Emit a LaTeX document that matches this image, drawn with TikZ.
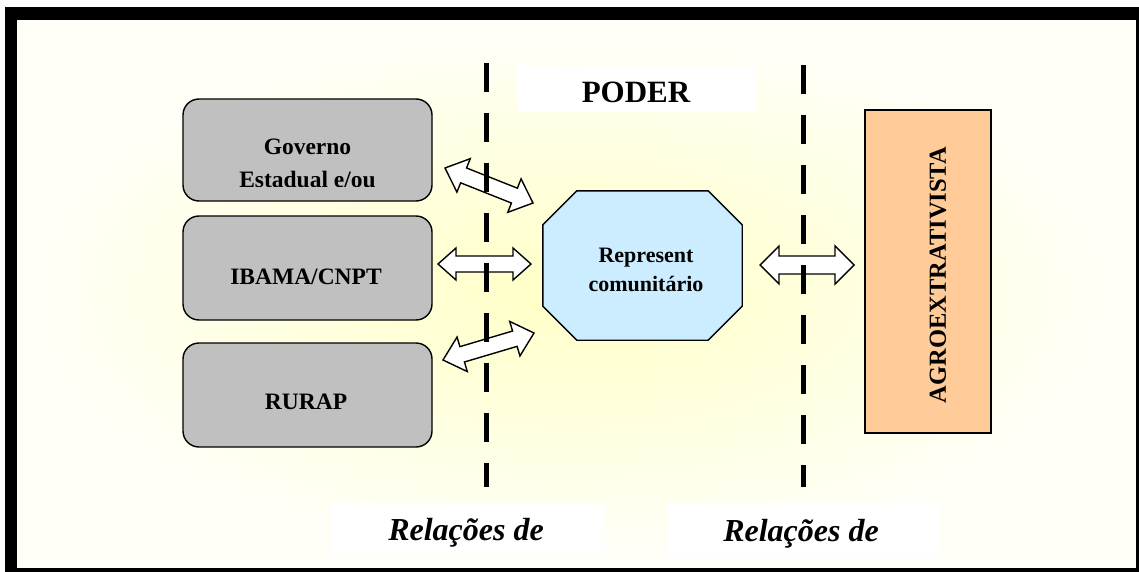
\documentclass[tikz,border=0pt]{standalone}
\usepackage{fontspec}
\setmainfont{Liberation Serif}
\usetikzlibrary{calc}
\definecolor{boxgray}{HTML}{C0C0C0}
\definecolor{octblue}{HTML}{CCECFF}
\definecolor{agrofill}{HTML}{FFCC99}
\definecolor{bgpale}{HTML}{FFFFF7}
\definecolor{bgyellow}{HTML}{FFFFC6}
\newcommand\dblarrow[5]{%
 \draw[blockarrow] (#1)
   -- ($(#1)!#3!(#2)!#5!90:(#2)$)
   -- ($(#1)!#3!(#2)!#4!90:(#2)$)
   -- ($(#2)!#3!(#1)!#4!-90:(#1)$)
   -- ($(#2)!#3!(#1)!#5!-90:(#1)$)
   -- (#2)
   -- ($(#2)!#3!(#1)!#5!90:(#1)$)
   -- ($(#2)!#3!(#1)!#4!90:(#1)$)
   -- ($(#1)!#3!(#2)!#4!-90:(#2)$)
   -- ($(#1)!#3!(#2)!#5!-90:(#2)$)
   -- cycle;}
\tikzset{
  graybox/.style={draw=black, line width=1.4pt, fill=boxgray, rounded corners=16pt, minimum width=249pt, inner sep=0pt},
  boxtext/.style={anchor=base, inner sep=0pt, font=\fontsize{23.5}{28}\selectfont\bfseries},
  octtext/.style={anchor=base, inner sep=0pt, font=\fontsize{22}{26}\selectfont\bfseries},
  reltext/.style={anchor=base, inner sep=0pt, font=\fontsize{32}{37}\selectfont\bfseries\itshape},
  blockarrow/.style={draw=black, line width=1.4pt, fill=white, line join=miter},
  sepline/.style={line width=5pt, dash pattern=on 29pt off 21pt},
}
\begin{document}
\begin{tikzpicture}[x=1pt, y=-1pt]
\useasboundingbox (0,0) rectangle (1139,572);
% frame and background
\fill[black] (5,7) rectangle (1139,572);
\fill[bgpale] (17,20) rectangle (1136,568);
\shade[inner color=bgyellow, outer color=bgpale] (30,35) rectangle (1110,550);
% white label boxes
\fill[white] (517,65) rectangle (755,112);
\fill[white] (332,503) rectangle (605,555);
\fill[white] (668,503) rectangle (940,557);
% gray boxes
\node[graybox, minimum height=102pt] (gov) at (307.5,150) {};
\node[graybox, minimum height=104pt] (ibama) at (307.5,268) {};
\node[graybox, minimum height=104pt] (rurap) at (307.5,395) {};
% octagon
\node[minimum width=199pt, minimum height=149pt, inner sep=0pt] (rep) at (642.5,265.5) {};
\draw[line width=1.4pt, fill=octblue, line join=miter]
  ($(rep.north west)+(34,0)$) -- ($(rep.north east)+(-34,0)$)
  -- ($(rep.north east)+(0,34)$) -- ($(rep.south east)+(0,-34)$)
  -- ($(rep.south east)+(-34,0)$) -- ($(rep.south west)+(34,0)$)
  -- ($(rep.south west)+(0,-34)$) -- ($(rep.north west)+(0,34)$) -- cycle;
% agro box
\node[draw=black, line width=1.4pt, fill=agrofill, minimum width=126pt, minimum height=323pt, inner sep=0pt] (agro) at (928,271.5) {};
% arrows
\coordinate (a1) at (445,168); \coordinate (b1) at (533,203);
\coordinate (a2) at (438,264); \coordinate (b2) at (531,264);
\coordinate (a3) at (443,360); \coordinate (b3) at (534,333);
\coordinate (a4) at (760,265); \coordinate (b4) at (854,265);
\dblarrow{a1}{b1}{20pt}{8pt}{18pt}
\dblarrow{a2}{b2}{18pt}{8pt}{16pt}
\dblarrow{a3}{b3}{20pt}{8pt}{18pt}
\dblarrow{a4}{b4}{19pt}{9pt}{19pt}
% dashed separators
\coordinate (l1) at (486,63); \coordinate (l2) at (486,487);
\coordinate (r1) at (803,65); \coordinate (r2) at (803,487);
\draw[sepline] (l1) -- (l2);
\draw[sepline] (r1) -- (r2);
% texts
\node[boxtext] (govt1) at (307.5,155) {Governo};
\begin{scope}
\clip (183,99) rectangle (432,186);
\node[boxtext] (govt2) at (307.5,187) {Estadual e/ou};
\end{scope}
\node[boxtext] (ibamat) at (306,284) {IBAMA/CNPT};
\node[boxtext] (rurapt) at (306,409) {RURAP};
\node[octtext] (rept1) at (646,262) {Represent};
\node[octtext] (rept2) at (646,291) {comunitário};
\node[rotate=90, inner sep=0pt, font=\fontsize{24.5}{29}\selectfont\bfseries] (agrot) at (938,275) {AGROEXTRATIVISTA};
\node[anchor=base, inner sep=0pt, font=\fontsize{31}{36}\selectfont\bfseries] (poder) at (636,103) {PODER};
\node[reltext] (rel1) at (466,540) {Relações de};
\node[reltext] (rel2) at (801,541) {Relações de};
\end{tikzpicture}
\end{document}
